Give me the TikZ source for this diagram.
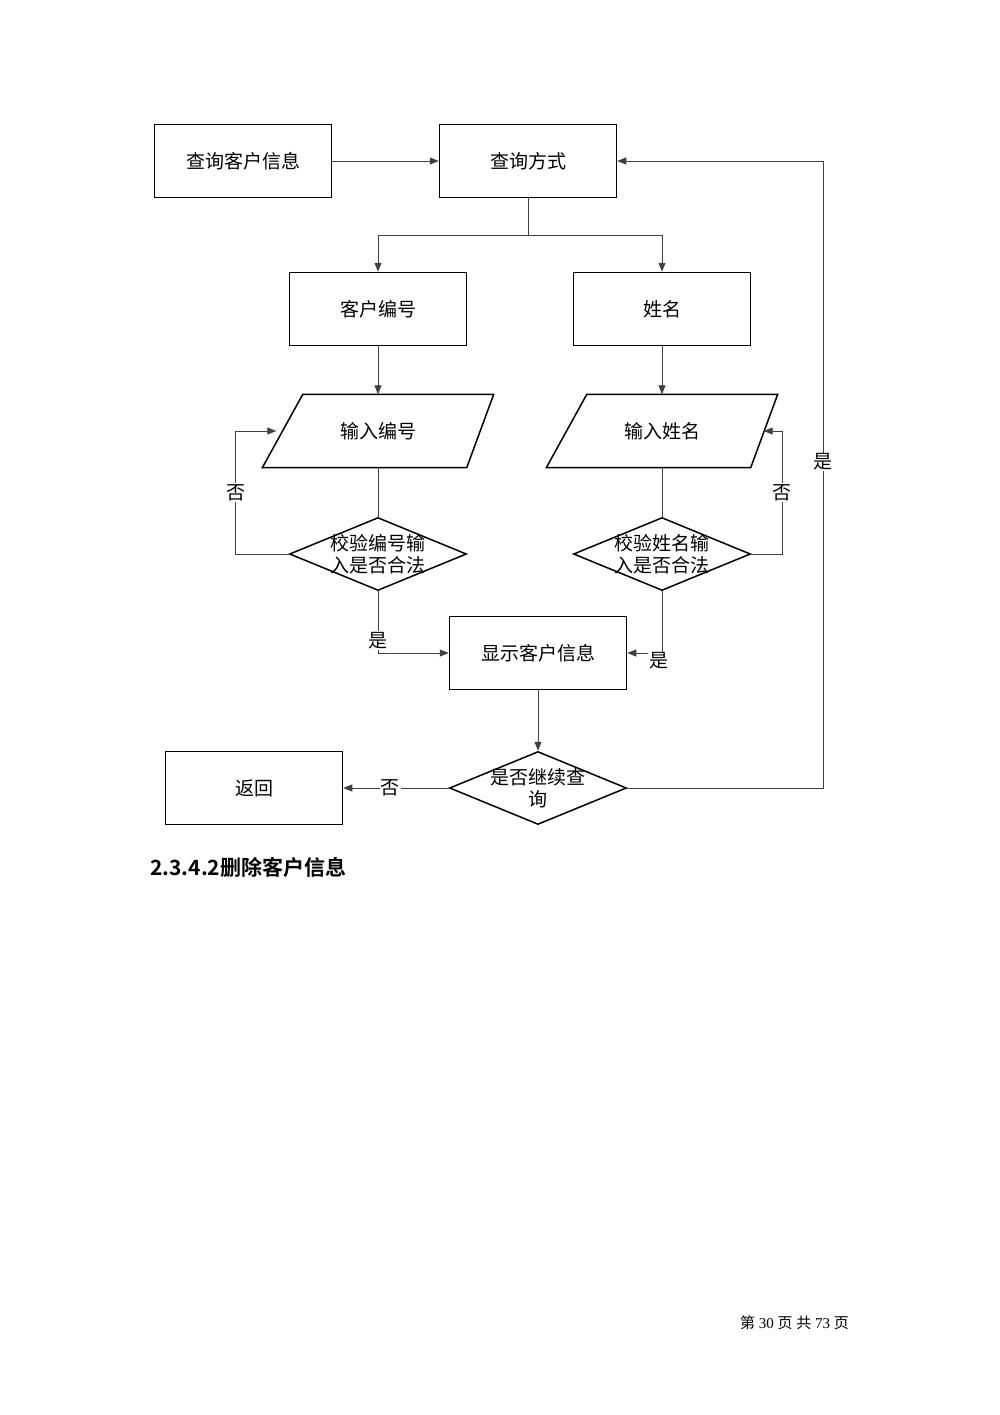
\documentclass[tikz,border=0pt]{standalone}
\usepackage{fontspec}
\setmainfont{Liberation Serif}
\newfontfamily\cjk{Noto Sans CJK SC}
\newfontfamily\cjkb{Noto Sans CJK SC Bold}
\usetikzlibrary{shapes.geometric,arrows.meta,calc}
\begin{document}
\begin{tikzpicture}[x=1pt,y=-1pt,
  box/.style={draw,line width=1.5pt,minimum width=177pt,minimum height=73pt,inner sep=0,font=\cjk\fontsize{19}{21}\selectfont},
  para/.style={minimum width=177pt,minimum height=73pt,inner sep=0,font=\cjk\fontsize{19}{21}\selectfont},
  dia/.style={draw,line width=1.5pt,diamond,aspect=2.42,minimum width=177pt,minimum height=73pt,inner sep=0},
  dtext/.style={label={[align=center,font=\cjk\fontsize{19}{22}\selectfont]center:#1}},
  conn/.style={line width=0.8pt,draw=black!75},
  arr/.style={conn,-{Triangle[length=9pt,width=7pt]}},
  lab/.style={font=\cjk\fontsize{19}{21}\selectfont,fill=white,inner sep=1pt}]
\useasboundingbox (0,0) rectangle (1000,1415);
\node[box] (a) at (243,161) {查询客户信息};
\node[box] (b) at (528,161) {查询方式};
\node[box] (c) at (378,309) {客户编号};
\node[box] (d) at (662,309) {姓名};
\node[para] (e) at (378,431) {输入编号};
\node[para] (f) at (662,431) {输入姓名};
\foreach \n in {e,f}{
  \draw[line width=1.5pt] ($(\n.north west)+(13.5,0)$) -- ($(\n.north east)+(27,0)$) -- ($(\n.south east)+(0,0)$) -- ($(\n.south west)+(-27,0)$) -- cycle;}
\node[dia,dtext={校验编号输\\入是否合法}] (g) at (378,554) {};
\node[dia,dtext={校验姓名输\\入是否合法}] (h) at (662,554) {};
\node[box] (i) at (538,653) {显示客户信息};
\node[dia,dtext={是否继续查\\询}] (j) at (538,788) {};
\node[box] (k) at (254,788) {返回};
\coordinate (sp) at (528,235);
\draw[arr] (a) -- (b);
\draw[conn] (b) -- (sp);
\draw[arr] (sp) -| (c);
\draw[arr] (sp) -| (d);
\draw[arr] (c) -- (e);
\draw[arr] (d) -- (f);
\draw[conn] (e) -- (g);
\draw[conn] (f) -- (h);
\draw[arr] (g.west) -- ++(-53,0) |- ($(e.west)+(-13,0)$) node[lab,pos=0.25] {否};
\draw[arr] (h.east) -- ++(31,0) |- ($(f.east)+(13,0)$) node[lab,pos=0.25] {否};
\draw[arr] (g.south) |- (i.west) node[lab,pos=0.4] {是};
\draw[arr] (h.south) |- (i.east) node[lab,pos=0.55,yshift=-8pt] {是};
\draw[arr] (i) -- (j);
\draw[arr] (j.west) -- (k.east) node[lab,midway,xshift=-6pt] {否};
\draw[arr] (j.east) -- (823,788) |- (b.east) node[lab,pos=0.26] {是};
\node[anchor=west,font=\cjkb\fontsize{21}{23}\selectfont,inner sep=0] (t) at (150,867) {2.3.4.2删除客户信息};
\node[anchor=east,font=\fontsize{15}{17}\selectfont,inner sep=0] (p) at (849,1323) {{\cjk 第} 30 {\cjk 页} {\cjk 共} 73 {\cjk 页}};
\end{tikzpicture}
\end{document}
